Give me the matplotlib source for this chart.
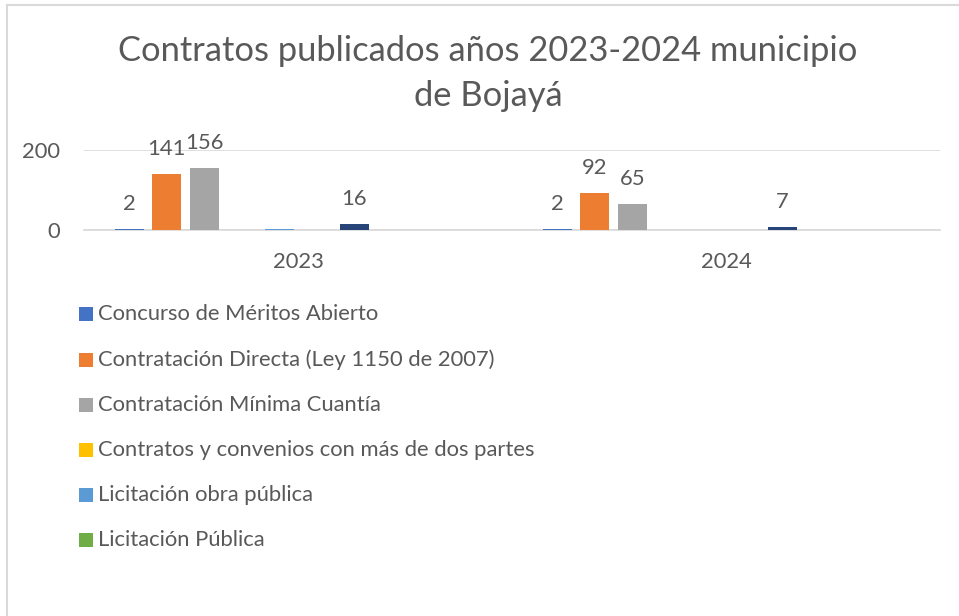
import matplotlib.pyplot as plt
from matplotlib.patches import Rectangle
import numpy as np

# data
years = ["2023", "2024"]
series_names = [
    "Concurso de Méritos Abierto",
    "Contratación Directa (Ley 1150 de 2007)",
    "Contratación Mínima Cuantía",
    "Contratos y convenios con más de dos partes",
    "Licitación obra pública",
    "Licitación Pública",
    "Selección Abreviada",
    "Selección Abreviada de Menor Cuantía",
    "Subasta",
    "Otros",
]
values_2023 = [2, 141, 156, 0, 3, 0, 16, 0, 0, 1]
values_2024 = [2, 92, 65, 0, 1, 0, 7, 1, 0, 0]
# which bars carry a data label
labeled_2023 = [True, True, True, False, False, False, True, False, False, False]
labeled_2024 = [True, True, True, False, False, False, True, False, False, False]
colors = ["#4472C4", "#ED7D31", "#A5A5A5", "#FFC000", "#5B9BD5",
          "#70AD47", "#264478", "#9E480E", "#636363", "#997300"]
legend_shown = 6

text_color = "#595959"
font = "Lato"

W, H = 959, 616
fig = plt.figure(figsize=(W / 100, H / 100), dpi=100)

def fx(px):
    return px / W

def fy(py):
    return 1 - py / H

# chart area border (light gray, left and top)
fig.add_artist(plt.Line2D([fx(7), fx(7)], [fy(5), 0], color="#D9D9D9", lw=1.5, transform=fig.transFigure))
fig.add_artist(plt.Line2D([fx(7), 1], [fy(5), fy(5)], color="#D9D9D9", lw=1.5, transform=fig.transFigure))

fig.text(fx(488), fy(51), "Contratos publicados años 2023-2024 municipio",
         ha="center", va="center", fontsize=24.8, color=text_color, family=font)
fig.text(fx(488), fy(96), "de Bojayá",
         ha="center", va="center", fontsize=24.8, color=text_color, family=font)

ax = fig.add_axes([fx(84), fy(230), fx(940) - fx(84), (230 - 150) / H])

x = np.arange(len(years))
n = len(series_names)
slot = 0.0875
bw = 0.068
for i in range(n):
    vals = [values_2023[i], values_2024[i]]
    labs = [labeled_2023[i], labeled_2024[i]]
    pos = x + (i - (n - 1) / 2) * slot
    bars = ax.bar(pos, vals, width=bw, color=colors[i], linewidth=0, zorder=3)
    for b, v, show in zip(bars, vals, labs):
        if show:
            ax.annotate(str(v), (b.get_x() + b.get_width() / 2, v),
                        xytext=(0, 18), textcoords="offset points",
                        ha="center", va="center", fontsize=15.8,
                        color=text_color, family=font)

ax.set_xlim(-0.5, 1.5)
ax.set_ylim(0, 200)
ax.set_yticks([0, 200])
ax.set_xticks(x)
ax.set_xticklabels(years)
ax.grid(axis="y", color="#D9D9D9", lw=1.2, zorder=0)
for s in ["top", "right", "left"]:
    ax.spines[s].set_visible(False)
ax.spines["bottom"].set_color("#D9D9D9")
ax.spines["bottom"].set_linewidth(1.2)
ax.tick_params(axis="both", length=0, labelsize=15.8, labelcolor=text_color)
ax.tick_params(axis="y", pad=17)
ax.tick_params(axis="x", pad=16)
for t in ax.get_xticklabels() + ax.get_yticklabels():
    t.set_family(font)

# legend (only the first entries fit in the chart area)
row_y = [314, 360, 405, 450, 495, 540]
for i in range(legend_shown):
    yc = row_y[i]
    fig.add_artist(Rectangle((fx(79), fy(yc + 7)), fx(14), 14 / H,
                             facecolor=colors[i], edgecolor="none",
                             transform=fig.transFigure))
    fig.text(fx(98), fy(yc), series_names[i], ha="left", va="center",
             fontsize=15.8, color=text_color, family=font)

fig.savefig("out.png", dpi=100, facecolor="white")
